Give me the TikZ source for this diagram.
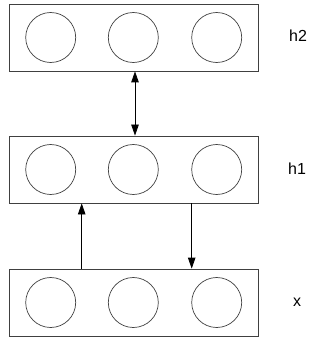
\documentclass[tikz,border=0pt]{standalone}
\usepackage{fontspec}
\setmainfont{Liberation Sans}
\usetikzlibrary{arrows.meta}
\begin{document}
\begin{tikzpicture}[x=1pt,y=-1pt,
  layerbox/.style={draw=black!75,line width=0.8pt,minimum width=249pt,minimum height=67pt,inner sep=0pt},
  unit/.style={draw=black!75,line width=0.7pt,circle,minimum size=50pt,inner sep=0pt},
  lbl/.style={font=\fontsize{16pt}{18pt}\selectfont},
  conn/.style={line width=0.8pt,-{Triangle[length=11pt,width=7.5pt]}},
  dconn/.style={line width=0.8pt,{Triangle[length=11pt,width=7.5pt]}-{Triangle[length=11pt,width=7.5pt]}}]
\useasboundingbox (0,0) rectangle (322,339);
\node[layerbox] (top) at (133.5,37.5) {};
\node[layerbox] (mid) at (133.5,169.5) {};
\node[layerbox] (bot) at (133.5,302.5) {};
\foreach \n/\y in {top/37.5,mid/169.5,bot/302.5}{
  \node[unit] (\n a) at (50.7,\y) {};
  \node[unit] (\n b) at (133.3,\y) {};
  \node[unit] (\n c) at (216.7,\y) {};
}
\node[lbl] (lh2) at (298,36) {h2};
\node[lbl] (lh1) at (297,169) {h1};
\node[lbl] (lx) at (297,302) {x};
\coordinate (c1) at (135,0);
\coordinate (c2) at (81.7,0);
\coordinate (c3) at (191.7,0);
\draw[dconn] (top.south -| c1) -- (mid.north -| c1);
\draw[conn] (bot.north -| c2) -- (mid.south -| c2);
\draw[conn] (mid.south -| c3) -- (bot.north -| c3);
\end{tikzpicture}
\end{document}
